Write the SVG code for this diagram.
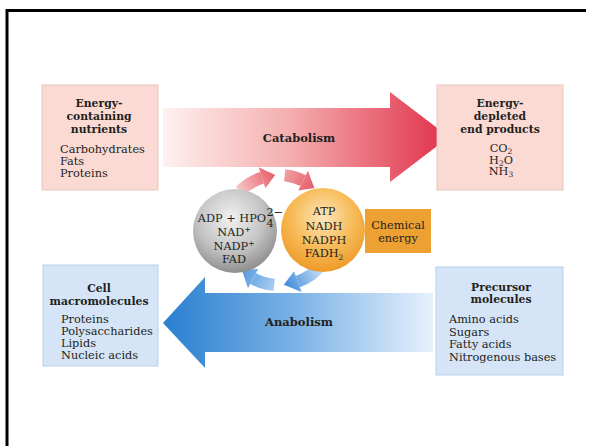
<svg xmlns="http://www.w3.org/2000/svg" width="592" height="446" viewBox="0 0 592 446">
<style>
.hd{font-family:"DejaVu Serif",serif;font-weight:bold;font-size:10.8px;fill:#231f20;text-anchor:middle}
.it{font-family:"DejaVu Serif",serif;font-size:11.3px;fill:#231f20}
.c{text-anchor:middle}
.lab{font-family:"DejaVu Serif",serif;font-weight:bold;font-size:11.5px;fill:#231f20;text-anchor:middle}
.pink{fill:#fbdad4;stroke:#e8c6c1;stroke-width:1}
.blue{fill:#d5e5f7;stroke:#b9cfe7;stroke-width:1}
</style>
<defs>
<linearGradient id="gCat" gradientUnits="userSpaceOnUse" x1="163" y1="0" x2="449" y2="0">
<stop offset="0" stop-color="#fdf1ef"/><stop offset="0.45" stop-color="#f4adad"/><stop offset="1" stop-color="#e0304a"/>
</linearGradient>
<linearGradient id="gAna" gradientUnits="userSpaceOnUse" x1="163" y1="0" x2="433" y2="0">
<stop offset="0" stop-color="#2a7fd0"/><stop offset="0.5" stop-color="#7db3e6"/><stop offset="1" stop-color="#e6f1fc"/>
</linearGradient>
<linearGradient id="gR1" gradientUnits="userSpaceOnUse" x1="240" y1="192" x2="272" y2="172">
<stop offset="0" stop-color="#f7c6c4"/><stop offset="1" stop-color="#e6606c"/>
</linearGradient>
<linearGradient id="gR2" gradientUnits="userSpaceOnUse" x1="285" y1="172" x2="316" y2="190">
<stop offset="0" stop-color="#f0a0a4"/><stop offset="1" stop-color="#e45564"/>
</linearGradient>
<linearGradient id="gB1" gradientUnits="userSpaceOnUse" x1="322" y1="265" x2="285" y2="286">
<stop offset="0" stop-color="#cfe4f8"/><stop offset="1" stop-color="#3f8ad8"/>
</linearGradient>
<linearGradient id="gB2" gradientUnits="userSpaceOnUse" x1="275" y1="286" x2="240" y2="270">
<stop offset="0" stop-color="#a9cdf1"/><stop offset="1" stop-color="#4f96dd"/>
</linearGradient>
<radialGradient id="gGray" cx="0.45" cy="0.35" r="0.65">
<stop offset="0" stop-color="#f2f2f2"/><stop offset="0.6" stop-color="#c4c4c4"/><stop offset="1" stop-color="#8f8f8f"/>
</radialGradient>
<radialGradient id="gOr" cx="0.5" cy="0.35" r="0.65">
<stop offset="0" stop-color="#fde6bd"/><stop offset="0.55" stop-color="#f7bc5a"/><stop offset="1" stop-color="#ee9a28"/>
</radialGradient>
</defs>
<rect width="592" height="446" fill="#ffffff"/>
<g id="frame" stroke="#000" stroke-width="3" fill="none">
<path d="M7 446 V10.5 H586"/>
</g>

<g id="connectors">
<polygon id="catabolism-arrow" points="163,108 390,108 390,92 449,137 390,182 390,167 163,167" fill="url(#gCat)"/>
<polygon id="anabolism-arrow" points="433,293 205,293 205,277 163,323 205,368 205,352 433,352" fill="url(#gAna)"/>
<g id="red-left">
<path d="M240.1 191.1 A55 55 0 0 1 262 177.7" fill="none" stroke="url(#gR1)" stroke-width="12"/>
<polygon points="258.6,167.2 275.2,175.1 265.4,188.2" fill="url(#gR1)"/>
</g>
<g id="red-right">
<path d="M284.7 175.3 A55 55 0 0 1 303.1 180.6" fill="none" stroke="url(#gR2)" stroke-width="12"/>
<polygon points="307.9,170.7 314.4,187.9 298.3,190.5" fill="url(#gR2)"/>
</g>
<g id="blue-right">
<path d="M321.1 265.4 A55 55 0 0 1 297.8 281.7" fill="none" stroke="url(#gB1)" stroke-width="12"/>
<polygon points="301.6,292 283.8,284.8 294,271.3" fill="url(#gB1)"/>
</g>
<g id="blue-left">
<path d="M274.2 284.8 A55 55 0 0 1 253.2 278.6" fill="none" stroke="url(#gB2)" stroke-width="12"/>
<polygon points="248,288.3 242.2,270.9 258.3,268.8" fill="url(#gB2)"/>
</g>
<text class="lab" x="299" y="142">Catabolism</text>
<text class="lab" x="299" y="326">Anabolism</text>
</g>

<g id="energy-containing">
<rect class="pink" x="42" y="85" width="116" height="105"/>
<text class="hd" x="99" y="107">Energy-</text>
<text class="hd" x="99" y="120">containing</text>
<text class="hd" x="99" y="133">nutrients</text>
<text class="it" x="60" y="153">Carbohydrates</text>
<text class="it" x="60" y="165">Fats</text>
<text class="it" x="60" y="177">Proteins</text>
</g>

<g id="energy-depleted">
<rect class="pink" x="437" y="85" width="126" height="105"/>
<text class="hd" x="500" y="107">Energy-</text>
<text class="hd" x="500" y="120">depleted</text>
<text class="hd" x="500" y="133">end products</text>
<text class="it c" x="501" y="152" font-size="10.5">CO<tspan font-size="7.5" dy="2">2</tspan></text>
<text class="it c" x="501" y="163.5" font-size="10.5">H<tspan font-size="7.5" dy="2">2</tspan><tspan dy="-2">O</tspan></text>
<text class="it c" x="501" y="175" font-size="10.5">NH<tspan font-size="7.5" dy="2">3</tspan></text>
</g>

<g id="cell-macromolecules">
<rect class="blue" x="43" y="265" width="115" height="101"/>
<text class="hd" x="99" y="292">Cell</text>
<text class="hd" x="99" y="305">macromolecules</text>
<text class="it" x="61" y="323">Proteins</text>
<text class="it" x="61" y="335">Polysaccharides</text>
<text class="it" x="61" y="347">Lipids</text>
<text class="it" x="61" y="359">Nucleic acids</text>
</g>

<g id="precursor-molecules">
<rect class="blue" x="436" y="267" width="127" height="108"/>
<text class="hd" x="501" y="291">Precursor</text>
<text class="hd" x="501" y="303">molecules</text>
<text class="it" x="449" y="323">Amino acids</text>
<text class="it" x="449" y="335.5">Sugars</text>
<text class="it" x="449" y="348">Fatty acids</text>
<text class="it" x="449" y="360.5">Nitrogenous bases</text>
</g>

<g id="adp-circle">
<circle cx="235" cy="231" r="42" fill="url(#gGray)"/>
<text class="it" x="266" y="222" text-anchor="end" font-size="10.8">ADP + HPO</text>
<text class="it" x="266.5" y="215.5" font-size="7">2−</text>
<text class="it" x="266.5" y="226.5" font-size="7">4</text>
<text class="it c" x="234" y="236">NAD<tspan font-size="7.5" dy="-4">+</tspan></text>
<text class="it c" x="234" y="249.5">NADP<tspan font-size="7.5" dy="-4">+</tspan></text>
<text class="it c" x="234" y="263">FAD</text>
</g>

<g id="atp-circle">
<circle cx="323" cy="230" r="42" fill="url(#gOr)"/>
<text class="it c" x="324" y="215">ATP</text>
<text class="it c" x="324" y="229.5">NADH</text>
<text class="it c" x="324" y="243.5">NADPH</text>
<text class="it c" x="324" y="257">FADH<tspan font-size="7.5" dy="2.5">2</tspan></text>
</g>

<g id="chemical-energy">
<rect x="365" y="209" width="66" height="44" fill="#eea133"/>
<text class="it c" x="398" y="229" font-size="11" fill="#3a2a12">Chemical</text>
<text class="it c" x="398" y="242" font-size="11" fill="#3a2a12">energy</text>
</g>
</svg>
